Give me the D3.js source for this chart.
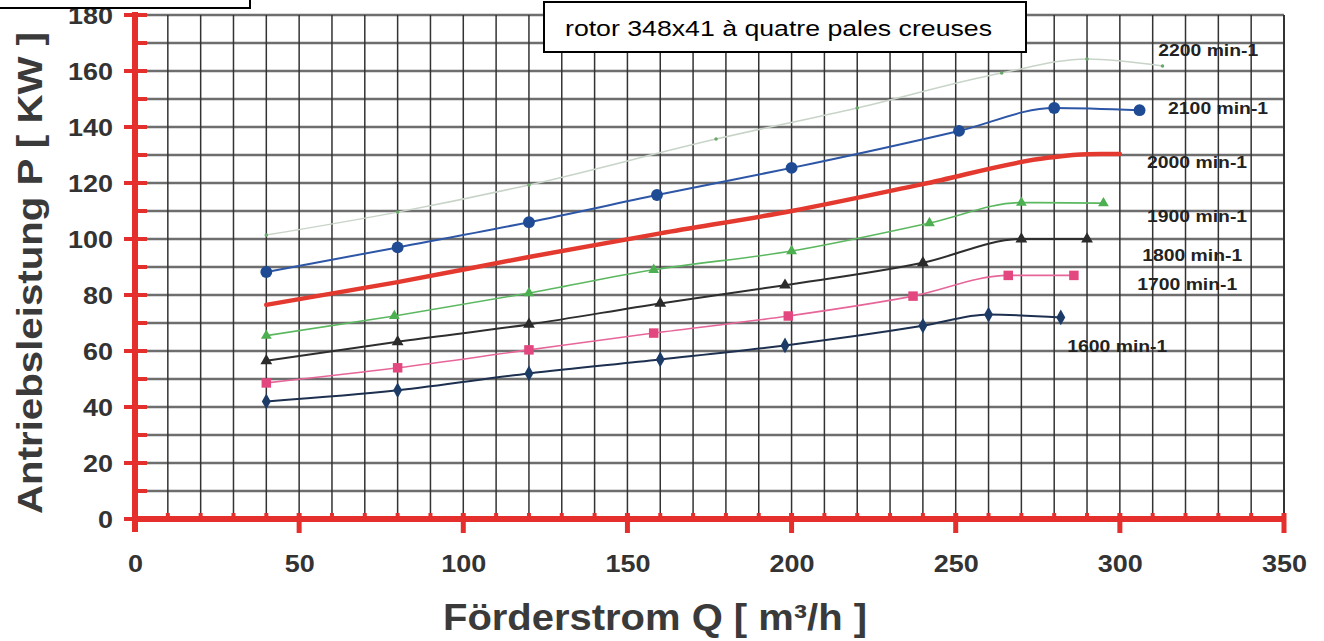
<!DOCTYPE html>
<html>
<head>
<meta charset="utf-8">
<script src="https://cdn.jsdelivr.net/npm/d3@7"></script>
<style>
  html, body { margin: 0; padding: 0; background: #fff; }
  svg { display: block; font-family: "Liberation Sans", Arial, sans-serif; }
</style>
</head>
<body>
<svg id="chart" width="1324" height="641"></svg>
<script>
// values
const xTicks = [0, 50, 100, 150, 200, 250, 300, 350];
const yTicks = [0, 20, 40, 60, 80, 100, 120, 140, 160, 180];

const speeds = ['1600 min-1', '1700 min-1', '1800 min-1', '1900 min-1',
  '2000 min-1', '2100 min-1', '2200 min-1'];

const s1600 = [[40, 42], [80, 46], [120, 52], [160, 57], [198, 62], [240, 69], [260, 73], [282, 72]];
const s1700 = [[40, 48.6], [80, 54], [120, 60.4], [158, 66.4], [199, 72.5], [237, 79.6], [266, 87], [286, 87]];
const s1800 = [[40, 56.5], [80, 63.3], [120, 69.5], [160, 77], [198, 83.5], [240, 91.5], [270, 100], [290, 100]];
const s1900 = [[40, 65.5], [79, 72.5], [120, 80.7], [158, 89], [200, 95.7], [242, 105.7], [270, 113], [295, 112.8]];
const s2000 = [[40, 76.5], [80, 84.6], [120, 93.6], [160, 102], [200, 110], [240, 119.6], [278, 129], [290, 130.3], [300, 130.4]];
const s2100 = [[40, 88.2], [80, 97], [120, 106], [159, 115.7], [200, 125.4], [251, 138.6], [280, 146.8], [306, 146]];
const s2200 = [[40, 101.4], [80, 109.6], [120, 119.3], [177, 135.7], [220, 146.8], [264, 159.3], [290, 164.3], [313, 161.8]];

// where each speed label sits, in chart units
const labelQ = [284, 305.3, 306.8, 308.3, 308.3, 314.7, 311.7];
const labelP = [59.6, 81.8, 92.1, 106.1, 125.4, 144.6, 165.4];

const svg = d3.select('#chart');
const red = '#e42f2c';

const x = d3.scaleLinear().domain([0, 350]).range([135, 1284]);
const y = d3.scaleLinear().domain([0, 180]).range([519, 15]);

// grid
const grid = svg.append('g');
grid.selectAll('.h')
  .data(d3.range(10, 181, 10))
  .join('line')
  .attr('x1', x(0)).attr('x2', x(350))
  .attr('y1', (d) => y(d)).attr('y2', (d) => y(d))
  .attr('stroke', '#6e6e6e')
  .attr('stroke-width', 2.4);
grid.selectAll('.v')
  .data(d3.range(10, 351, 10))
  .join('line')
  .attr('x1', (d) => x(d)).attr('x2', (d) => x(d))
  .attr('y1', y(180)).attr('y2', y(0))
  .attr('stroke', '#333')
  .attr('stroke-width', (d) => d == 350 ? 2 : 1.5);

// series
const series = [
  {data: s1600, line: '#1d3050', width: 2, mark: d3.symbolDiamond, size: 70, fill: '#1c3b66'},
  {data: s1700, line: '#e7669a', width: 1.6, mark: d3.symbolSquare, size: 90, fill: '#e2487f'},
  {data: s1800, line: '#2e2e2e', width: 2, mark: d3.symbolTriangle, size: 60, fill: '#2b2b2b'},
  {data: s1900, line: '#5cb860', width: 1.6, mark: d3.symbolTriangle, size: 50, fill: '#4caf50'},
  {data: s2000, line: '#e3392f', width: 4.5, mark: null},
  {data: s2100, line: '#2d56a6', width: 2, mark: d3.symbolCircle, size: 110, fill: '#1f4a94'},
  {data: s2200, line: '#c9d4c9', width: 1.5, mark: d3.symbolCircle, size: 10, fill: '#6aa86a'}
];

const lineGen = d3.line()
  .x((d) => x(d[0]))
  .y((d) => y(d[1]))
  .curve(d3.curveMonotoneX);

series.forEach((s) => {
  svg.append('path')
    .attr('d', lineGen(s.data))
    .attr('fill', 'none')
    .attr('stroke', s.line)
    .attr('stroke-width', s.width)
    .attr('stroke-linecap', 'round');
  if (s.mark) {
    svg.append('g').selectAll('path')
      .data(s.data)
      .join('path')
      .attr('transform', (d) => `translate(${x(d[0])},${y(d[1])})`)
      .attr('d', d3.symbol().type(s.mark).size(s.size))
      .attr('fill', s.fill);
  }
});

// speed labels
svg.append('g').selectAll('text')
  .data(speeds)
  .join('text')
  .attr('x', (d, i) => x(labelQ[i]))
  .attr('y', (d, i) => y(labelP[i]))
  .attr('font-size', 16)
  .attr('font-weight', 'bold')
  .attr('fill', '#222')
  .attr('textLength', 100)
  .attr('lengthAdjust', 'spacingAndGlyphs')
  .text((d) => d);

// red axes
const axes = svg.append('g').attr('stroke', red);
axes.append('line')
  .attr('x1', x(0)).attr('x2', x(0))
  .attr('y1', y(180) - 3).attr('y2', y(0) + 13)
  .attr('stroke-width', 6);
axes.append('line')
  .attr('x1', x(0)).attr('x2', x(350))
  .attr('y1', y(0)).attr('y2', y(0))
  .attr('stroke-width', 6);
axes.selectAll('.ym')
  .data(d3.range(0, 181, 10))
  .join('line')
  .attr('x1', (d) => d % 20 == 0 ? x(0) - 11 : x(0))
  .attr('x2', x(0) + 12)
  .attr('y1', (d) => y(d)).attr('y2', (d) => y(d))
  .attr('stroke-width', 4);
axes.selectAll('.xm')
  .data(d3.range(10, 351, 10))
  .join('line')
  .attr('x1', (d) => x(d)).attr('x2', (d) => x(d))
  .attr('y1', y(0) - 6)
  .attr('y2', (d) => d % 50 == 0 ? y(0) + 14 : y(0))
  .attr('stroke-width', (d) => d % 50 == 0 ? 5 : 4);

// tick labels
const yAxis = svg.append('g')
  .attr('transform', `translate(${x(0) - 22},0)`)
  .call(d3.axisLeft(y).tickValues(yTicks).tickSize(0).tickPadding(0));
const xAxis = svg.append('g')
  .attr('transform', `translate(0,${y(0) + 36})`)
  .call(d3.axisBottom(x).tickValues(xTicks).tickSize(0).tickPadding(0));
[yAxis, xAxis].forEach((a) => {
  a.select('.domain').remove();
  a.selectAll('text')
    .attr('font-family', '"Liberation Sans", Arial, sans-serif')
    .attr('font-size', 24)
    .attr('font-weight', 'bold')
    .attr('fill', '#333')
    .attr('textLength', (d) => String(d).length * 15)
    .attr('lengthAdjust', 'spacingAndGlyphs');
});
yAxis.selectAll('text').attr('dy', '0.35em');
xAxis.selectAll('text').attr('dy', '0.72em');

// axis titles
svg.append('text')
  .attr('transform', 'translate(42,273) rotate(-90)')
  .attr('text-anchor', 'middle')
  .attr('font-size', 35)
  .attr('font-weight', 'bold')
  .attr('fill', '#3a3a3a')
  .attr('textLength', 482)
  .attr('lengthAdjust', 'spacingAndGlyphs')
  .text('Antriebsleistung P [ KW ]');

svg.append('text')
  .attr('x', 655)
  .attr('y', 630)
  .attr('text-anchor', 'middle')
  .attr('font-size', 36)
  .attr('font-weight', 'bold')
  .attr('fill', '#3a3a3a')
  .attr('textLength', 424)
  .attr('lengthAdjust', 'spacingAndGlyphs')
  .text('Förderstrom Q [ m³/h ]');

// boxes on top
svg.append('rect')
  .attr('x', -2).attr('y', -2)
  .attr('width', 252).attr('height', 10)
  .attr('fill', '#fff')
  .attr('stroke', '#000')
  .attr('stroke-width', 2);

svg.append('rect')
  .attr('x', 544).attr('y', 2)
  .attr('width', 482).attr('height', 50)
  .attr('fill', '#fff')
  .attr('stroke', '#000')
  .attr('stroke-width', 2);

svg.append('text')
  .attr('x', 565)
  .attr('y', 36)
  .attr('font-size', 22)
  .attr('fill', '#000')
  .attr('textLength', 427)
  .attr('lengthAdjust', 'spacingAndGlyphs')
  .text('rotor 348x41 à quatre pales creuses');
</script>
</body>
</html>
